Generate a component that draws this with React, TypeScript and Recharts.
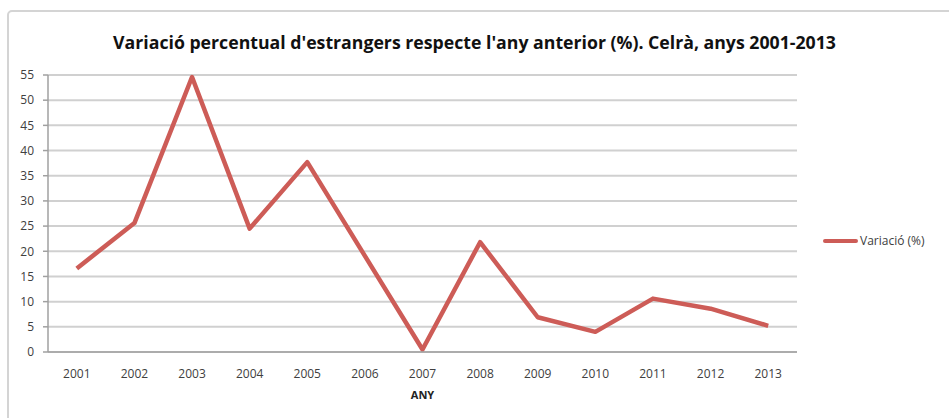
import React from 'react';
import { LineChart, Line, XAxis, YAxis, CartesianGrid, Legend, Label } from 'recharts';

const years = ['2001', '2002', '2003', '2004', '2005', '2006', '2007', '2008', '2009', '2010', '2011', '2012', '2013'];
const variation = [16.6, 25.6, 54.6, 24.5, 37.7, 19.1, 0.5, 21.8, 6.9, 4.0, 10.6, 8.6, 5.2];
const yTicks = [0, 5, 10, 15, 20, 25, 30, 35, 40, 45, 50, 55];

const data = years.map((year, i) => ({ year, value: variation[i] }));

const font = '"Open Sans", Lato, sans-serif';

function LegendBox({ payload }: any) {
  return (
    <div style={{ display: 'flex', alignItems: 'center', fontFamily: font, fontSize: 12, color: '#404040' }}>
      {(payload || []).map((p: any) => (
        <React.Fragment key={p.value}>
          <span style={{ display: 'inline-block', width: 35, height: 4, background: p.color, borderRadius: 2, marginRight: 2 }} />
          <span>{p.value}</span>
        </React.Fragment>
      ))}
    </div>
  );
}

export default function App() {
  return (
    <div style={{ position: 'fixed', left: 0, top: 0, width: 949, height: 418, background: '#fff', overflow: 'hidden' }}>
      <div
        style={{
          position: 'absolute', left: 7, top: 10, width: 980, height: 440,
          border: '2px solid #d4d4d4', borderRadius: 5, boxSizing: 'border-box',
        }}
      />
      <div
        style={{
          position: 'absolute', left: 0, top: 30, width: 949, textAlign: 'center',
          fontFamily: font, fontWeight: 700, fontSize: 17.7, color: '#111',
        }}
      >
        Variació percentual d'estrangers respecte l'any anterior (%). Celrà, anys 2001-2013
      </div>
      <div style={{ position: 'absolute', left: 0, top: 0 }}>
        <LineChart width={949} height={418} data={data} margin={{ top: 75, right: 26, bottom: 0, left: 0 }}>
          <CartesianGrid vertical={false} stroke="#d0d0d0" strokeWidth={2} />
          <XAxis
            dataKey="year"
            height={66}
            padding={{ left: 28.8, right: 28.8 }}
            tickLine={false}
            axisLine={{ stroke: '#a0a0a0', strokeWidth: 1.5 }}
            tick={{ fill: '#404040', fontSize: 12, fontFamily: font }}
            tickMargin={11}
            interval={0}
          >
            <Label value="ANY" position="insideBottom" offset={19} style={{ fontFamily: font, fontSize: 11, fontWeight: 700, fill: '#222' }} />
          </XAxis>
          <YAxis
            width={48}
            domain={[0, 55]}
            ticks={yTicks}
            interval={0}
            tickSize={5}
            tickMargin={9}
            tickLine={{ stroke: '#a0a0a0', strokeWidth: 1.5 }}
            axisLine={{ stroke: '#a0a0a0', strokeWidth: 1.5 }}
            tick={{ fill: '#404040', fontSize: 12, fontFamily: font }}
          />
          <Legend
            layout="vertical"
            align="right"
            verticalAlign="middle"
            content={LegendBox}
            wrapperStyle={{ position: 'absolute', left: 823, top: 232, width: 126 }}
          />
          <Line
            type="linear"
            dataKey="value"
            name="Variació (%)"
            stroke="#cd5c57"
            strokeWidth={4.5}
            strokeLinejoin="round"
            dot={false}
            activeDot={false}
            isAnimationActive={false}
          />
        </LineChart>
      </div>
    </div>
  );
}
